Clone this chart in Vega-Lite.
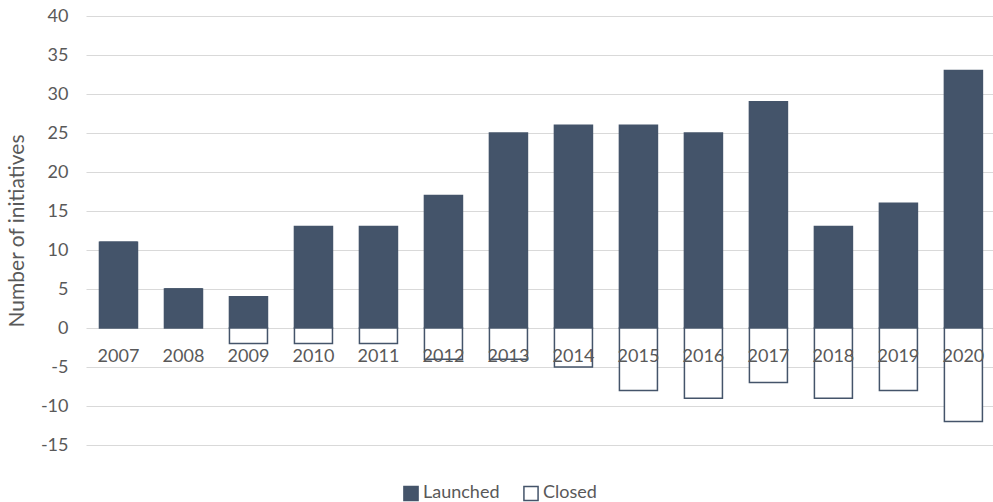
{
  "$schema": "https://vega.github.io/schema/vega-lite/v6.json",
  "autosize": {"type": "none"},
  "width": 907,
  "height": 429,
  "padding": {"left": 86, "top": 16, "right": 0, "bottom": 57},
  "background": "white",
  "config": {
    "view": {"stroke": null},
    "font": "Lato",
    "axis": {"labelFont": "Lato", "titleFont": "Lato", "labelColor": "#595959", "titleColor": "#595959"},
    "legend": {"labelFont": "Lato", "labelColor": "#595959"}
  },
  "data": {
    "values": [
      {"year": "2007", "type": "Launched", "value": 11},
      {"year": "2008", "type": "Launched", "value": 5},
      {"year": "2009", "type": "Launched", "value": 4},
      {"year": "2010", "type": "Launched", "value": 13},
      {"year": "2011", "type": "Launched", "value": 13},
      {"year": "2012", "type": "Launched", "value": 17},
      {"year": "2013", "type": "Launched", "value": 25},
      {"year": "2014", "type": "Launched", "value": 26},
      {"year": "2015", "type": "Launched", "value": 26},
      {"year": "2016", "type": "Launched", "value": 25},
      {"year": "2017", "type": "Launched", "value": 29},
      {"year": "2018", "type": "Launched", "value": 13},
      {"year": "2019", "type": "Launched", "value": 16},
      {"year": "2020", "type": "Launched", "value": 33},
      {"year": "2007", "type": "Closed", "value": 0},
      {"year": "2008", "type": "Closed", "value": 0},
      {"year": "2009", "type": "Closed", "value": -2},
      {"year": "2010", "type": "Closed", "value": -2},
      {"year": "2011", "type": "Closed", "value": -2},
      {"year": "2012", "type": "Closed", "value": -4},
      {"year": "2013", "type": "Closed", "value": -4},
      {"year": "2014", "type": "Closed", "value": -5},
      {"year": "2015", "type": "Closed", "value": -8},
      {"year": "2016", "type": "Closed", "value": -9},
      {"year": "2017", "type": "Closed", "value": -7},
      {"year": "2018", "type": "Closed", "value": -9},
      {"year": "2019", "type": "Closed", "value": -8},
      {"year": "2020", "type": "Closed", "value": -12}
    ]
  },
  "encoding": {
    "x": {
      "field": "year",
      "type": "nominal",
      "scale": {"paddingInner": 0.415, "paddingOuter": 0.185, "align": 0.56},
      "axis": null
    }
  },
  "layer": [
    {
      "mark": {"type": "bar", "strokeWidth": 1.5},
      "encoding": {
        "y": {
          "field": "value",
          "type": "quantitative",
          "scale": {"domain": [-15, 40], "nice": false},
          "axis": {
            "values": [-15, -10, -5, 0, 5, 10, 15, 20, 25, 30, 35, 40],
            "tickCount": 12,
            "labelExpr": "datum.value + ''",
            "labelOverlap": false,
            "title": "Number of initiatives",
            "titleFontSize": 21,
            "titleFontWeight": "normal",
            "titlePadding": 13,
            "labelFontSize": 18,
            "labelPadding": 18,
            "domain": false,
            "ticks": false,
            "grid": true,
            "gridColor": "#d9d9d9",
            "gridWidth": 1
          }
        },
        "fill": {
          "field": "type",
          "type": "nominal",
          "scale": {"domain": ["Launched", "Closed"], "range": ["#44546A", "#ffffff"]},
          "legend": {
            "title": null,
            "orient": "none",
            "legendX": 316,
            "legendY": 468,
            "direction": "horizontal",
            "symbolType": "square",
            "symbolSize": 200,
            "symbolStrokeWidth": 1.5,
            "labelFontSize": 18,
            "columnPadding": 20,
            "labelOffset": 3
          }
        },
        "stroke": {
          "field": "type",
          "type": "nominal",
          "scale": {"domain": ["Launched", "Closed"], "range": ["#44546A", "#44546A"]},
          "legend": null
        }
      }
    },
    {
      "transform": [{"filter": "datum.type === 'Launched'"}],
      "mark": {"type": "text", "baseline": "middle", "align": "center", "dy": 29, "fontSize": 18, "color": "#595959", "font": "Lato"},
      "encoding": {
        "y": {"datum": 0},
        "text": {"field": "year"}
      }
    }
  ]
}
